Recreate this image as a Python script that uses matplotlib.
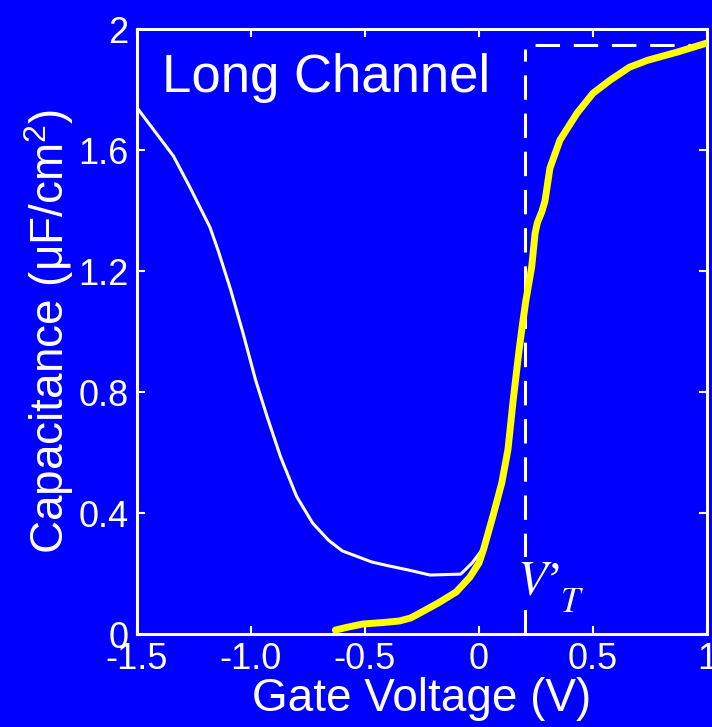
import matplotlib
matplotlib.use('Agg')
import matplotlib.pyplot as plt

# high-frequency C-V curve (white)
hf_v = [-1.50, -1.39, -1.34, -1.27, -1.18, -1.145, -1.09, -1.035, -0.98, -0.93,
        -0.87, -0.80, -0.73, -0.66, -0.60, -0.47, -0.40, -0.30, -0.215, -0.08, -0.03, 0.02]
hf_c = [1.74, 1.63, 1.58, 1.48, 1.345, 1.27, 1.14, 0.995, 0.84, 0.72,
        0.585, 0.455, 0.367, 0.31, 0.275, 0.238, 0.226, 0.21, 0.195, 0.198, 0.235, 0.285]

# gate-to-channel C-V curve (yellow)
gc_v = [-0.63, -0.58, -0.51, -0.42, -0.35, -0.30, -0.26, -0.18, -0.10, -0.04, 0.0, 0.02, 0.06,
        0.10, 0.127, 0.150, 0.176, 0.19, 0.205, 0.231, 0.246, 0.256, 0.275, 0.289,
        0.311, 0.355, 0.43, 0.50, 0.575, 0.66, 0.74, 0.87, 1.00]
gc_c = [0.013, 0.022, 0.033, 0.038, 0.043, 0.053, 0.069, 0.102, 0.139, 0.188, 0.235, 0.28, 0.387,
        0.50, 0.61, 0.774, 0.94, 1.02, 1.10, 1.214, 1.325, 1.36, 1.395, 1.43,
        1.54, 1.633, 1.722, 1.788, 1.831, 1.874, 1.897, 1.924, 1.954]

vt = 0.2
c_ox = 1.947

x_ticks = [-1.5, -1.0, -0.5, 0, 0.5, 1]
x_labels = ['-1.5', '-1.0', '-0.5', '0', '0.5', '1']
y_ticks = [0, 0.4, 0.8, 1.2, 1.6, 2]
y_labels = ['0', '0.4', '0.8', '1.2', '1.6', '2']

blue = '#0000FF'
plt.rcParams['font.family'] = ['Liberation Sans', 'DejaVu Sans']
plt.rcParams['mathtext.default'] = 'regular'

fig = plt.figure(figsize=(7.12, 7.27), dpi=100, facecolor=blue)
ax = fig.add_axes([0.1924, 0.1279, 0.8006, 0.8321])
ax.set_facecolor(blue)

ax.plot([vt, vt], [0, c_ox - 0.012], color='white', lw=2.2,
        linestyle=(0, (8, 4.5)), zorder=2)
ax.plot([vt, 1.0], [c_ox, c_ox], color='white', lw=2.2,
        linestyle=(9.2, (8, 4.5)), zorder=2)

ax.plot(hf_v, hf_c, color='white', lw=2.2, zorder=3)
ax.plot(gc_v, gc_c, color='#FFFF00', lw=5, solid_capstyle='round',
        solid_joinstyle='round', zorder=4)

ax.set_xlim(-1.5, 1)
ax.set_ylim(0, 2)
ax.set_xticks(x_ticks)
ax.set_xticklabels(x_labels)
ax.set_yticks(y_ticks)
ax.set_yticklabels(y_labels)

for s in ax.spines.values():
    s.set_color('white')
    s.set_linewidth(2.2)
ax.tick_params(direction='in', length=6, width=1.5, colors='white',
               labelsize=26, top=True, right=True, pad=6)

ax.set_xlabel('Gate Voltage (V)', color='white', fontsize=33, labelpad=0)
ax.set_ylabel('Capacitance (μF/cm$^{2}$)', color='white', fontsize=33, labelpad=2)

ax.text(-1.39, 1.92, 'Long Channel', color='white', fontsize=38,
        ha='left', va='top')
# V'_T label, drawn in two parts so the subscript sits lower
ax.text(0.165, 0.129, r"$\mathit{V}$’", color='white', fontsize=35,
        family=['Liberation Serif', 'DejaVu Serif'], math_fontfamily='stix',
        ha='left', va='baseline', zorder=5,
        bbox=dict(facecolor=blue, edgecolor='none', pad=3))
ax.text(0.355, 0.073, r"$\mathit{T}$", color='white', fontsize=25,
        math_fontfamily='stix', ha='left', va='baseline', zorder=5)

fig.savefig('out.png', dpi=100, facecolor=blue)
